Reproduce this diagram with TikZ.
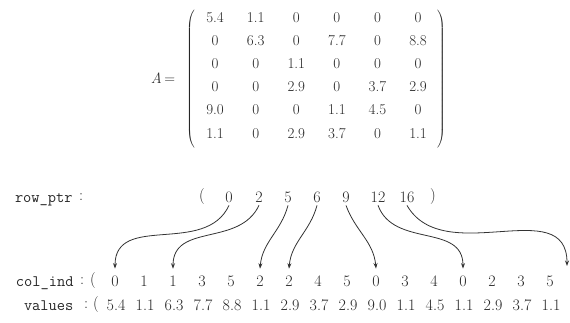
\documentclass[tikz,border=0pt]{standalone}
\usetikzlibrary{arrows.meta}
\begin{document}
\begin{tikzpicture}[x=1pt,y=-1pt,
  every node/.style={inner sep=0pt,outer sep=0pt,text=black!85},
  ent/.style={font=\fontsize{15}{18}\selectfont},
  bot/.style={font=\fontsize{16}{19}\selectfont},
  lab/.style={font=\fontsize{16}{19}\selectfont,anchor=base west},
  arr/.style={-{Stealth[length=5.5pt,width=4pt]},line width=0.8pt,black!80}]
\useasboundingbox (0,0) rectangle (570,322);
\clip (0,0) rectangle (570,322);
% matrix
\node[ent] (Alab) at (163,78) {\textit{A}\,=};
\node[ent] (lp) at (191,79) {$\left(\vcenter{\hbox{\rule{0pt}{140pt}}}\right.$};
\node[ent] (rp) at (441,79) {$\left.\vcenter{\hbox{\rule{0pt}{140pt}}}\right)$};
\foreach \row [count=\r] in {{5.4,1.1,0,0,0,0},{0,6.3,0,7.7,0,8.8},{0,0,1.1,0,0,0},{0,0,2.9,0,3.7,2.9},{9.0,0,0,1.1,4.5,0},{1.1,0,2.9,3.7,0,1.1}}{
  \foreach \v [count=\c] in \row {
    \node[ent] (m-\r-\c) at ({174.5+40.6*\c},{-6+23.2*\r}) {\v};
  }
}
% row_ptr
\node[lab] (rplab) at (15,202) {\texttt{row\_ptr}};
\node[bot] (rpcol) at (81,197) {:};
\node[bot] (rpo) at (202,197) {(};
\foreach \v [count=\i from 0] / \x in {0/229,2/259,5/288,6/317,9/346,12/378,16/407}{
  \node[bot] (rp\i) at (\x,197) {\v};
}
\node[bot] (rpc) at (433,197) {)};
% col_ind and values
\node[lab] (cilab) at (16,286) {\texttt{col\_ind}};
\node[bot] (cicol) at (82,281) {:};
\node[bot] (cio) at (93,281) {(};
\node[lab] (vallab) at (24,310) {\texttt{values}};
\node[bot] (vcol) at (86,305) {:};
\node[bot] (vo) at (96,305) {(};
\foreach \v [count=\k from 0] in {0,1,1,3,5,2,2,4,5,0,3,4,0,2,3,5}{
  \node[bot] (c\k) at ({115+29*\k},281) {\v};
}
\foreach \v [count=\k from 0] in {5.4,1.1,6.3,7.7,8.8,1.1,2.9,3.7,2.9,9.0,1.1,4.5,1.1,2.9,3.7,1.1}{
  \node[bot] (v\k) at ({116+29*\k},305) {\v};
}
\node[bot] (cic) at (576,281) {)};
\node[bot] (vc) at (576,305) {)};
\coordinate (c16) at (567,266);
% arrows
\draw[arr] ([yshift=-3pt]rp0.south) to[out=-115,in=90,looseness=1.1] ([yshift=7pt]c0.north);
\draw[arr] ([yshift=-3pt]rp1.south) to[out=-115,in=90,looseness=1.1] ([yshift=7pt]c2.north);
\draw[arr] ([yshift=-3pt]rp2.south) to[out=-105,in=85] ([yshift=7pt]c5.north);
\draw[arr] ([yshift=-3pt]rp3.south) to[out=-105,in=85] ([yshift=7pt]c6.north);
\draw[arr] ([yshift=-3pt]rp4.south) to[out=-70,in=95] ([yshift=7pt]c9.north);
\draw[arr] ([yshift=-3pt]rp5.south) to[out=-70,in=90,looseness=1.1] ([yshift=7pt]c12.north);
\draw[arr] ([yshift=-3pt]rp6.south) to[out=-60,in=90,looseness=1.1] (c16);
\end{tikzpicture}
\end{document}
